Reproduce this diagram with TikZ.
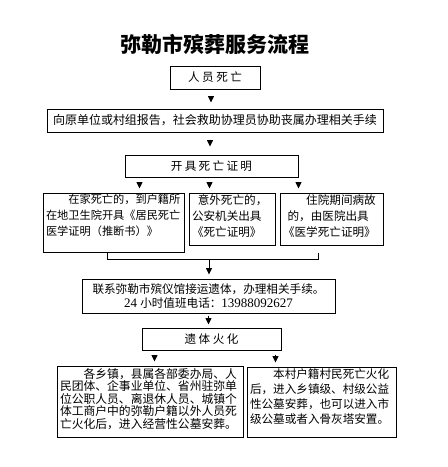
\documentclass[tikz,border=0pt]{standalone}
\usepackage{fontspec}
\setmainfont{Liberation Serif}
\newfontfamily\cjk{Noto Sans CJK SC}
\usetikzlibrary{arrows.meta}
\newcommand\txtbox[4]{\parbox[c][#1][t]{#2}{\vspace*{#3}\setlength{\parindent}{0pt}\leftskip=3pt\rightskip=0pt plus 1fil\parfillskip=0pt plus 1fil #4}}
\begin{document}
\begin{tikzpicture}[x=1pt,y=-1pt,
  box/.style={draw, line width=1pt, inner sep=0pt, font=\cjk\fontsize{11.6}{16}\selectfont},
  arr/.style={-{Triangle[length=6.5pt,width=6pt]}, line width=0.8pt},
  brk/.style={line width=0.8pt}]
\useasboundingbox[fill=white] (0,0) rectangle (448,467);

\node[font=\cjk\bfseries\fontsize{21}{24}\selectfont] (title) at (215,44) {弥勒市殡葬服务流程};

\node[box, minimum width=90pt, minimum height=23pt] (n1) at (215,77.5)
  {人\hspace{2.5pt}员\hspace{2.5pt}死\hspace{2.5pt}亡};

\node[box, minimum width=336pt, minimum height=23pt, font=\cjk\fontsize{12}{14}\selectfont] (n2) at (215,120.5)
  {向原单位或村组报告，社会救助协理员协助丧属办理相关手续};

\node[box, minimum width=173pt, minimum height=22pt] (n3) at (211.5,166)
  {开\hspace{2.3pt}具\hspace{2.3pt}死\hspace{2.3pt}亡\hspace{2.3pt}证\hspace{2.3pt}明};

\node[box] (a) at (113.5,222.5) {\txtbox{59pt}{141pt}{1.5pt}{\fontsize{11.2}{16}\selectfont
  \hspace*{2em}在家死亡的，到户籍所\\
  在地卫生院开具《居民死亡\\
  医学证明（推断书）》}};

\node[box] (b) at (232,219) {\txtbox{52pt}{86pt}{1.5pt}{%
  \hspace*{0.5em}意外死亡的，\\
  公安机关出具\\
  《死亡证明》}};

\node[box] (c) at (331.5,219) {\txtbox{52pt}{103pt}{1.5pt}{%
  \hspace*{2em}住院期间病故\\
  \hspace*{0.4em}的，由医院出具\\
  《医学死亡证明》}};

\coordinate (bl) at (107,259);
\coordinate (br) at (318,259);
\coordinate (bm) at (209,259);
\draw[brk] (bl) ++(0,-6) -- (bl) -- (br) -- ++(0,-6);

\node[box, minimum width=253pt, minimum height=34pt, align=center, font=\cjk\fontsize{11.6}{14}\selectfont] (n4) at (208.5,296)
  {联系弥勒市殡仪馆接运遗体，办理相关手续。\\
   {\rmfamily\fontsize{13}{14}\selectfont 24 }小时值班电话：{\rmfamily\fontsize{13}{14}\selectfont 13988092627}};

\node[box, minimum width=139pt, minimum height=22pt] (n5) at (211.5,339)
  {遗\hspace{2.5pt}体\hspace{2.5pt}火\hspace{2.5pt}化};

\node[box] (d) at (150,401.5) {\txtbox{71pt}{186pt}{2pt}{\fontsize{11.8}{12.6}\selectfont
  \hspace*{2em}各乡镇，县属各部委办局、人\\
  民团体、企事业单位、省州驻弥单\\
  位公职人员、离退休人员、城镇个\\
  体工商户中的弥勒户籍以外人员死\\
  亡火化后，进入经营性公墓安葬。}};

\node[box] (e) at (321.5,402) {\txtbox{70pt}{149pt}{2pt}{\fontsize{11.6}{15}\selectfont
  \hspace*{2em}本村户籍村民死亡火化\\
  后，进入乡镇级、村级公益\\
  性公墓安葬，也可以进入市\\
  级公墓或者入骨灰塔安置。}};

% connectors
\draw[arr, shorten <=6pt, shorten >=6pt] ([xshift=-4pt]n1.south) -- ([xshift=-4pt]n1.south |- n2.north);
\draw[arr, shorten <=7pt, shorten >=8pt] ([xshift=-5pt]n2.south) -- ([xshift=-5pt]n2.south |- n3.north);
\draw[arr, shorten <=5pt, shorten >=4pt] ([xshift=15pt]n3.south west) -- ([xshift=15pt]n3.south west |- a.north);
\draw[arr, shorten <=5pt, shorten >=4pt] ([xshift=-2pt]n3.south) -- ([xshift=-2pt]n3.south |- b.north);
\draw[arr, shorten <=5pt, shorten >=4pt] (n3.south east) -- (n3.south east |- c.north);
\draw[arr, shorten <=1pt, shorten >=4pt] (bm) -- (bm |- n4.north);
\draw[arr, shorten <=2pt, shorten >=3pt] (n4.south) -- (n4.south |- n5.north);
\draw[arr, shorten <=4pt, shorten >=4pt] ([xshift=13pt]n5.south west) -- ([xshift=13pt]n5.south west |- d.north);
\draw[arr, shorten <=4pt, shorten >=4pt] ([xshift=-6pt]n5.south east) -- ([xshift=-6pt]n5.south east |- e.north);
\end{tikzpicture}
\end{document}
